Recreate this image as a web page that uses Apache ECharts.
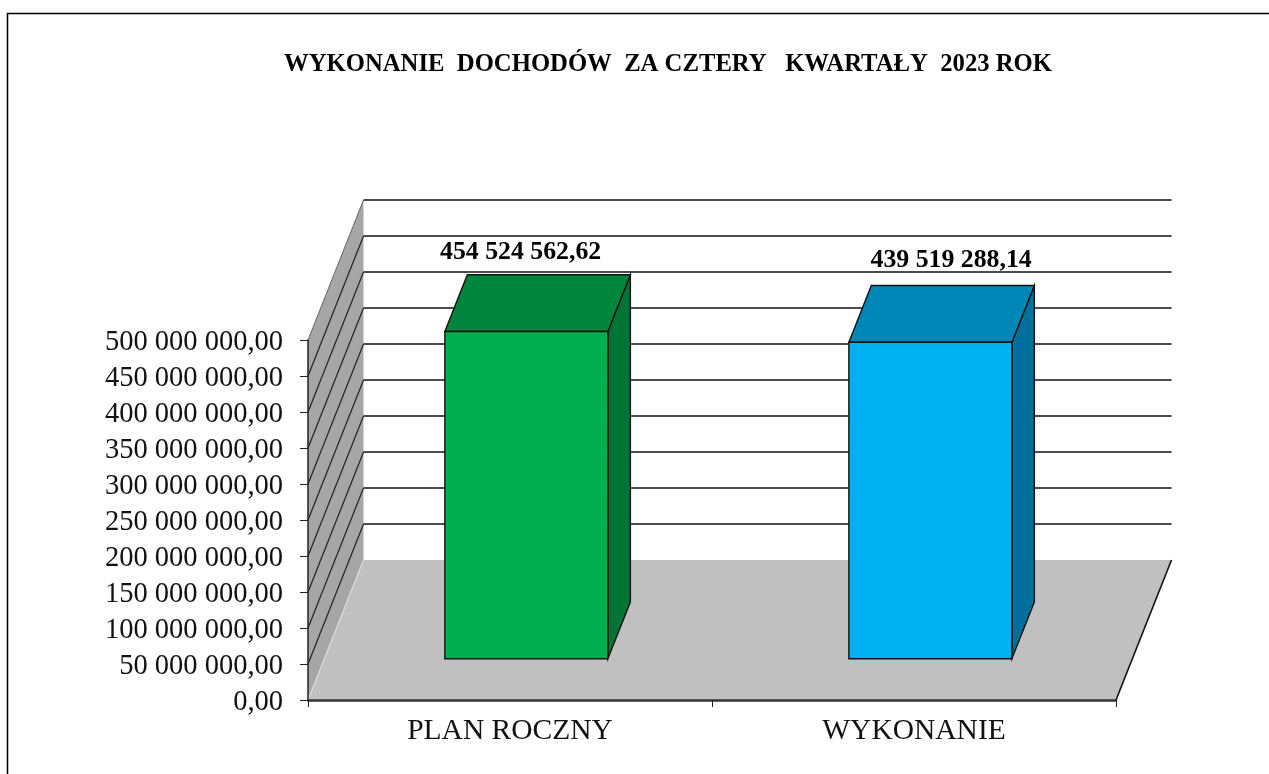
<!DOCTYPE html>
<html><head><meta charset="utf-8">
<style>html,body{margin:0;padding:0;background:#fff}#c{width:1269px;height:774px}</style>
<script src="https://cdn.jsdelivr.net/npm/echarts@6/dist/echarts.min.js"></script>
</head><body><div id="c"></div>
<script>
const titleText = 'WYKONANIE  DOCHODÓW  ZA CZTERY   KWARTAŁY  2023 ROK';
const categories = ['PLAN ROCZNY', 'WYKONANIE'];
const values = [454524562.62, 439519288.14];
const valueLabels = ['454 524 562,62', '439 519 288,14'];
const yTicks = [0, 50000000, 100000000, 150000000, 200000000, 250000000, 300000000, 350000000, 400000000, 450000000, 500000000];
const yTickLabels = ['0,00', '50 000 000,00', '100 000 000,00', '150 000 000,00', '200 000 000,00', '250 000 000,00', '300 000 000,00', '350 000 000,00', '400 000 000,00', '450 000 000,00', '500 000 000,00'];

const FONT = '"Liberation Serif","Times New Roman",serif';
const DEPTH = [55.5, -140];
const BAR_NEAR = 0.295, BAR_FAR = 0.70, BAR_W = 0.4035;
const faceColors = [['#00B050', '#00853C', '#007434'], ['#00B0F0', '#0087B8', '#006F9C']];
const labelShift = [[-17, -22], [9.5, -25]];

const at = (p, d) => [p[0] + DEPTH[0] * d, p[1] + DEPTH[1] * d];
const poly = (points, fill, stroke, lw) => ({
  type: 'polygon', shape: { points },
  style: { fill, stroke: stroke || 'none', lineWidth: lw || 0 }
});
const seg = (a, b, stroke, lw) => ({
  type: 'line', shape: { x1: a[0], y1: a[1], x2: b[0], y2: b[1] },
  style: { stroke, lineWidth: lw, fill: 'none' }
});
function corners(api) {
  const band = api.size([1, 0])[0];
  const l = api.coord([0, 0])[0] - band / 2;
  const r = api.coord([categories.length - 1, 0])[0] + band / 2;
  return { l, r };
}

const chart = echarts.init(document.getElementById('c'), null, { renderer: 'canvas' });
chart.setOption({
  animation: false,
  backgroundColor: '#fff',
  title: {
    text: titleText, left: 279, top: 47,
    textStyle: { fontFamily: FONT, fontWeight: 'bold', fontSize: 24.7, color: '#000' }
  },
  grid: { left: 308, right: 153, top: 340, bottom: 74 },
  xAxis: {
    type: 'category', data: categories, z: 6,
    axisLine: { show: true, lineStyle: { color: '#333', width: 2.5 } },
    axisTick: { show: true, length: 7, lineStyle: { color: '#222', width: 1 } },
    axisLabel: { fontFamily: FONT, fontSize: 29.5, color: '#111', margin: 16 }
  },
  yAxis: {
    type: 'value', min: 0, max: 500000000, interval: 50000000, z: 6,
    axisLine: { show: true, lineStyle: { color: '#222', width: 1.5 } },
    axisTick: { show: true, length: 8, lineStyle: { color: '#222', width: 1 } },
    splitLine: { show: false },
    axisLabel: {
      fontFamily: FONT, fontSize: 28.5, color: '#111', margin: 25,
      verticalAlign: 'top', lineHeight: 6,
      formatter: v => yTickLabels[yTicks.indexOf(v)]
    }
  },
  graphic: [{
    type: 'polyline', silent: true, z: 0,
    shape: { points: [[7.5, 774], [7.5, 13.5], [1269, 13.5]] },
    style: { stroke: '#000', lineWidth: 1.5, fill: 'none' }
  }],
  series: [
    {
      type: 'custom', z: 1, silent: true, data: [[0, 0]],
      renderItem(p, api) {
        const { l, r } = corners(api);
        const y0 = api.coord([0, 0])[1], yT = api.coord([0, 500000000])[1];
        return {
          type: 'group', children: [
            poly([[l, yT], at([l, yT], 1), at([l, y0], 1), [l, y0]], '#A6A6A6'),
            poly([[l, y0], at([l, y0], 1), at([r, y0], 1), [r, y0]], '#C0C0C0'),
            seg([l, y0], at([l, y0], 1), '#E4E4E4', 1),
            seg([l, yT], at([l, yT], 1), '#666', 1),
            seg([r, y0], at([r, y0], 1), '#111', 1.6)
          ]
        };
      }
    },
    {
      type: 'custom', z: 2, silent: true,
      data: yTicks.filter(v => v > 0).map(v => [0, v]),
      renderItem(p, api) {
        const { l, r } = corners(api);
        const y = api.coord([0, api.value(1)])[1];
        const kids = [seg(at([l, y], 1), at([r, y], 1), '#111', 1.5)];
        if (api.value(1) < 500000000) kids.push(seg([l, y], at([l, y], 1), '#222', 1.2));
        return { type: 'group', children: kids };
      }
    },
    {
      type: 'custom', z: 3, silent: true,
      data: values.map((v, i) => [i, v]),
      renderItem(p, api) {
        const i = api.value(0), v = api.value(1);
        const band = api.size([1, 0])[0];
        const top = api.coord([i, v]), base = api.coord([i, 0]);
        const hw = band * BAR_W / 2;
        const a = at([top[0] - hw, top[1]], BAR_NEAR), b = at([top[0] + hw, top[1]], BAR_NEAR);
        const c = at([base[0] + hw, base[1]], BAR_NEAR), d = at([base[0] - hw, base[1]], BAR_NEAR);
        const k = BAR_FAR - BAR_NEAR;
        const [front, lid, side] = faceColors[i];
        const st = '#111', lw = 1.4;
        return {
          type: 'group', children: [
            poly([b, at(b, k), at(c, k), c], side, st, lw),
            poly([a, at(a, k), at(b, k), b], lid, st, lw),
            poly([a, b, c, d], front, st, lw),
            {
              type: 'text',
              style: {
                x: (a[0] + at(b, k)[0]) / 2 + labelShift[i][0],
                y: at(a, k)[1] + labelShift[i][1],
                text: valueLabels[i], align: 'center', verticalAlign: 'middle',
                font: 'bold 25.8px ' + FONT, fill: '#000'
              }
            }
          ]
        };
      }
    }
  ]
});
</script></body></html>
